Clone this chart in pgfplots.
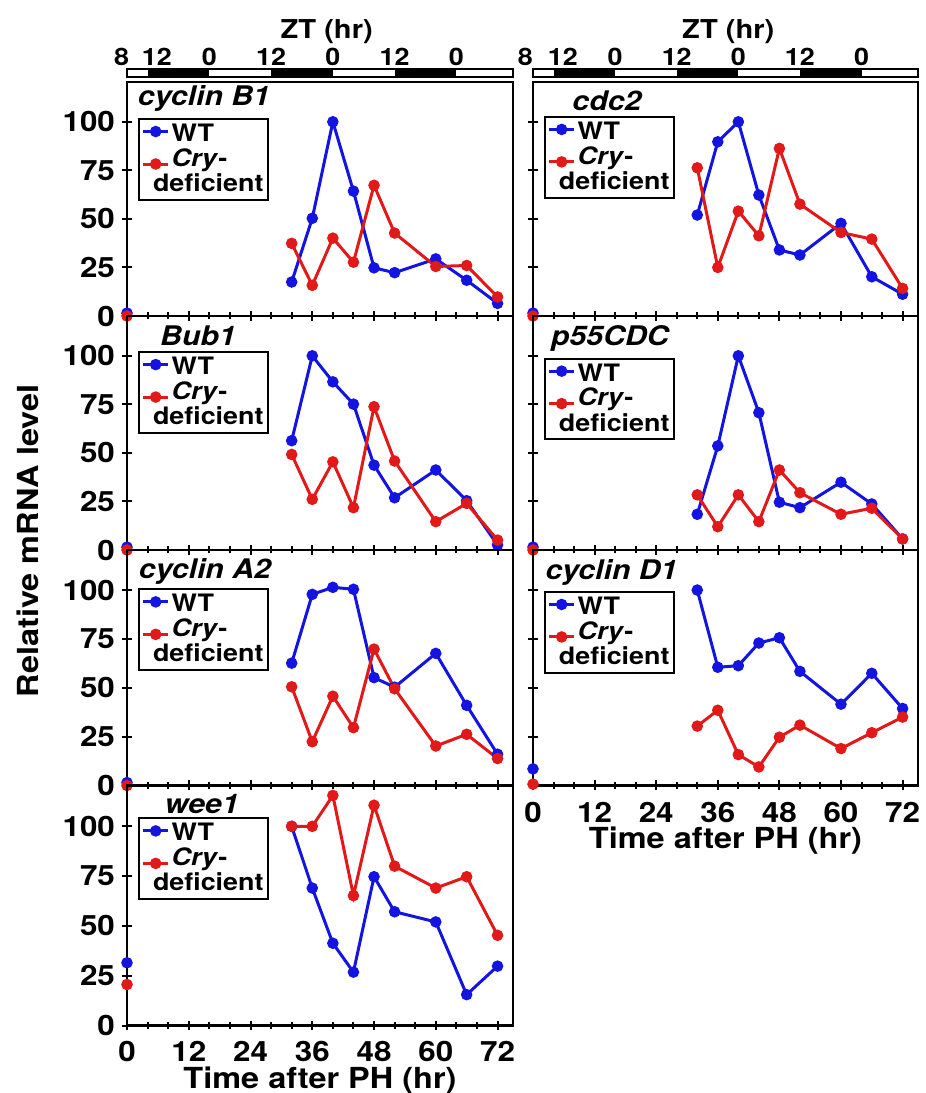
\documentclass[border=0pt]{standalone}
\usepackage{fontspec}
\setmainfont{TeX Gyre Heros}[FakeStretch=1.12]
\usepackage{pgfplots}
\pgfplotsset{compat=1.18}

\definecolor{wtblue}{RGB}{20,20,225}
\definecolor{cryred}{RGB}{225,25,25}

\tikzset{ztl/.style={anchor=base, font=\fontsize{12}{13}\selectfont\bfseries, yshift=1.8pt}}

\pgfplotsset{
  panel/.style={
    scale only axis, xmin=0, xmax=75, ymin=0, ymax=120.5, clip=false,
    axis line style={line width=1.25pt},
    tick style={line width=1pt, black},
    tick align=center, major tick length=5pt, minor tick length=3.5pt,
    xtick={0,12,...,72}, minor x tick num=2, ytick={0,25,50,75,100},
    xtick pos=bottom, ytick pos=left,
    tick label style={font=\fontsize{14}{16}\selectfont\bfseries},
    /pgf/number format/assume math mode=true,
    unbounded coords=jump,
    legend style={draw=black, line width=1pt, anchor=north west,
      font=\fontsize{12}{12.65}\selectfont\bfseries,
      inner xsep=1.35pt, inner ysep=2pt, row sep=1pt,
      nodes={inner xsep=1pt, inner ysep=0.5pt},
      cells={anchor=base west, align=left}},
  },
  wt/.style={color=wtblue, line width=1.5pt, mark=*, mark size=2.1pt,
    legend image code/.code={\draw[mark repeat=2,mark phase=2,##1] plot coordinates {(0pt,5pt) (6.25pt,5pt) (12.5pt,5pt)};}},
  cry/.style={color=cryred, line width=1.5pt, mark=*, mark size=2.1pt,
    legend image code/.code={\draw[mark repeat=2,mark phase=2,##1] plot coordinates {(0pt,13.8pt) (6.25pt,13.8pt) (12.5pt,13.8pt)};}},
  L/.style={panel, width=193pt},
  R/.style={panel, width=192.5pt, yticklabels={}},
  inner/.style={xticklabels={}},
  xlab/.style={xlabel={Time after PH (hr)},
    xlabel style={font=\fontsize{14.5}{17}\selectfont\bfseries, at={(axis description cs:0.5,0)}, anchor=base, yshift=-31.4pt}},
  zt/.style={scale only axis, width=193pt, height=4.15pt, xmin=0, xmax=75, ymin=0, ymax=1,
    axis line style={line width=1pt}, ticks=none, clip=false, axis on top},
}
\newcommand{\ptitle}[3]{\node[font=\fontsize{13.5}{15}\selectfont\bfseries\itshape, anchor=base] at (axis description cs:#1,#2) {#3};}
\newcommand{\ztlabels}[1]{%
  \node[ztl] at (axis cs:#1,1) {8};
  \node[ztl] at (axis cs:5.8,1) {12};
  \node[ztl] at (axis cs:16,1) {0};
  \node[ztl] at (axis cs:28,1) {12};
  \node[ztl] at (axis cs:40,1) {0};
  \node[ztl] at (axis cs:52,1) {12};
  \node[ztl] at (axis cs:64,1) {0};
  \addplot[fill=black, draw=none] coordinates {(4,1) (16,1)} \closedcycle;
  \addplot[fill=black, draw=none] coordinates {(28,1) (40,1)} \closedcycle;
  \addplot[fill=black, draw=none] coordinates {(52,1) (64,1)} \closedcycle;
}
\newcommand{\crylegend}{\legend{WT, {\textit{Cry}-\\\hspace*{-9.35pt}deficient}}}

\begin{document}
\begin{tikzpicture}
\path[use as bounding box] (0pt,0pt) rectangle (463pt,546.5pt);

% ZT bars
\begin{axis}[zt, at={(63.5pt,507.85pt)}, anchor=south west]
\ztlabels{-1.05}
\end{axis}
\node[anchor=base, font=\fontsize{13}{15}\selectfont\bfseries] at (163.35pt,527.1pt) {ZT (hr)};
\begin{axis}[zt, width=192.5pt, at={(266.5pt,507.85pt)}, anchor=south west]
\ztlabels{-1.5}
\end{axis}
\node[anchor=base, font=\fontsize{13}{15}\selectfont\bfseries] at (364.15pt,527.1pt) {ZT (hr)};

\node[rotate=90, anchor=center, font=\fontsize{14.5}{17}\selectfont\bfseries] at (13.75pt,276pt) {Relative mRNA level};

% ---------- left column ----------
\begin{axis}[L, inner, at={(63.5pt,388.5pt)}, anchor=south west, height=117pt,
  legend style={at={(axis description cs:0.0285,0.846)}}]
\addplot[wt] coordinates {(0,1.5) (16,nan) (32,17.5) (36,50.3) (40,100) (44,64.3) (48,24.8) (52,22.3) (60,29.4) (66,18.4) (72,6.5)};
\addplot[cry] coordinates {(0,0) (16,nan) (32,37.4) (36,15.8) (40,40.1) (44,27.7) (48,67.3) (52,42.7) (60,25.5) (66,26) (72,9.8)};
\crylegend
\ptitle{0.1995}{0.8974}{cyclin B1}
\end{axis}

\begin{axis}[L, inner, at={(63.5pt,271.5pt)}, anchor=south west, height=117pt,
  legend style={at={(axis description cs:0.0285,0.850)}}]
\addplot[wt] coordinates {(0,1.5) (16,nan) (32,56.3) (36,100) (40,86.6) (44,75.1) (48,43.7) (52,26.9) (60,41.2) (66,25.4) (72,2.6)};
\addplot[cry] coordinates {(0,0) (16,nan) (32,49.2) (36,26.1) (40,45.4) (44,21.8) (48,73.8) (52,45.8) (60,14.6) (66,24) (72,5.1)};
\crylegend
\ptitle{0.184}{0.872}{Bub1}
\end{axis}

\begin{axis}[L, inner, at={(63.5pt,153.75pt)}, anchor=south west, height=117.75pt,
  legend style={at={(axis description cs:0.0285,0.837)}}]
\addplot[wt] coordinates {(0,1.5) (16,nan) (32,62.6) (36,97.8) (40,101.4) (44,100.4) (48,55.2) (52,50.3) (60,67.6) (66,41) (72,16)};
\addplot[cry] coordinates {(0,0) (16,nan) (32,50.5) (36,22.4) (40,45.7) (44,29.6) (48,69.8) (52,49.5) (60,20.2) (66,26.2) (72,13.8)};
\crylegend
\ptitle{0.202}{0.880}{cyclin A2}
\end{axis}

\begin{axis}[L, xlab, at={(63.5pt,33.75pt)}, anchor=south west, height=120pt,
  xticklabel style={anchor=base, inner sep=0.5pt, yshift=-15.6pt},
  legend style={at={(axis description cs:0.0285,0.867)}}]
\addplot[wt] coordinates {(0,31.5) (16,nan) (32,100) (36,69) (40,41.3) (44,26.8) (48,74.7) (52,57.1) (60,52) (66,15.5) (72,29.8)};
\addplot[cry] coordinates {(0,20.6) (16,nan) (32,100) (36,100) (40,115.5) (44,65.2) (48,110.6) (52,80) (60,69) (66,74.7) (72,45.3)};
\crylegend
\ptitle{0.194}{0.885}{wee1}
\end{axis}

% ---------- right column ----------
\begin{axis}[R, inner, at={(266.5pt,388.5pt)}, anchor=south west, height=117pt,
  legend style={at={(axis description cs:0.0285,0.855)}}]
\addplot[wt] coordinates {(0,1.5) (16,nan) (32,52) (36,89.7) (40,100) (44,62.3) (48,34) (52,31.4) (60,47.7) (66,20.2) (72,11.2)};
\addplot[cry] coordinates {(0,0) (16,nan) (32,76.3) (36,25) (40,54) (44,41.3) (48,86.3) (52,57.6) (60,43) (66,39.6) (72,14.2)};
\crylegend
\ptitle{0.192}{0.880}{cdc2}
\end{axis}

\begin{axis}[R, inner, at={(266.5pt,271.5pt)}, anchor=south west, height=117pt,
  legend style={at={(axis description cs:0.0285,0.822)}}]
\addplot[wt] coordinates {(0,1.5) (16,nan) (32,18.4) (36,53.6) (40,100) (44,70.7) (48,24.6) (52,21.8) (60,34.9) (66,23.7) (72,5.7)};
\addplot[cry] coordinates {(0,0) (16,nan) (32,28.4) (36,12) (40,28.4) (44,14.6) (48,41.2) (52,29.5) (60,18.4) (66,21.5) (72,5.7)};
\crylegend
\ptitle{0.2}{0.872}{p55CDC}
\end{axis}

\begin{axis}[R, xlab, at={(266.5pt,153.75pt)}, anchor=south west, height=117.75pt,
  xticklabel style={anchor=base, inner sep=0.5pt, yshift=-15.8pt},
  legend style={at={(axis description cs:0.0285,0.826)}}]
\addplot[wt] coordinates {(0,8.5) (16,nan) (32,100) (36,60.5) (40,61.3) (44,72.9) (48,75.6) (52,58.4) (60,41.6) (66,57.4) (72,39.4)};
\addplot[cry] coordinates {(0,0.7) (16,nan) (32,30.4) (36,38.5) (40,15.8) (44,9.5) (48,24.7) (52,30.9) (60,18.9) (66,27) (72,35)};
\crylegend
\ptitle{0.204}{0.873}{cyclin D1}
\end{axis}
\end{tikzpicture}
\end{document}
